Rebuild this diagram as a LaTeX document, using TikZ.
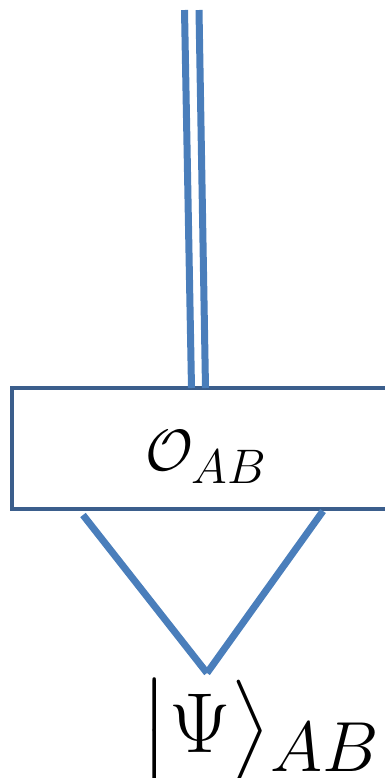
\documentclass[tikz,border=0pt]{standalone}
\usepackage{amsmath}
\definecolor{wireblue}{HTML}{4A7EBB}
\definecolor{frameblue}{HTML}{3B5E8C}
\tikzset{
  wire/.style={draw=wireblue,line width=3.5pt},
  opbox/.style={draw=frameblue,line width=2pt,rectangle,inner sep=0pt,
    minimum width=191.5pt,minimum height=60.5pt},
}
\begin{document}
\begin{tikzpicture}[x=0.5pt,y=-0.5pt]
  \clip (0,0) rectangle (385,778);
  \node[opbox] (op) at (203.5,448.5) {};
  \node[anchor=base,scale=1.17,font=\Huge] (oplab) at (206,470) {$\mathcal{O}_{AB}$};
  % classical double wire
  \coordinate (inL) at (184.5,10); \coordinate (inR) at (199,10);
  \coordinate (outL) at (191.5,388); \coordinate (outR) at (205.5,388);
  \draw[wire] (inL) -- (outL);
  \draw[wire] (inR) -- (outR);
  % the two legs of the state
  \coordinate (legL) at (83,515); \coordinate (legR) at (323,511);
  \coordinate (apex) at (207,673);
  \draw[wire] (legL) -- (apex);
  \draw[wire] (legR) -- (apex);
  \node[anchor=base west,inner sep=0pt,scale=1.71,font=\Huge] (psi) at (140,752)
    {$\bigl|\Psi\bigr\rangle{}_{AB}$};
\end{tikzpicture}
\end{document}
